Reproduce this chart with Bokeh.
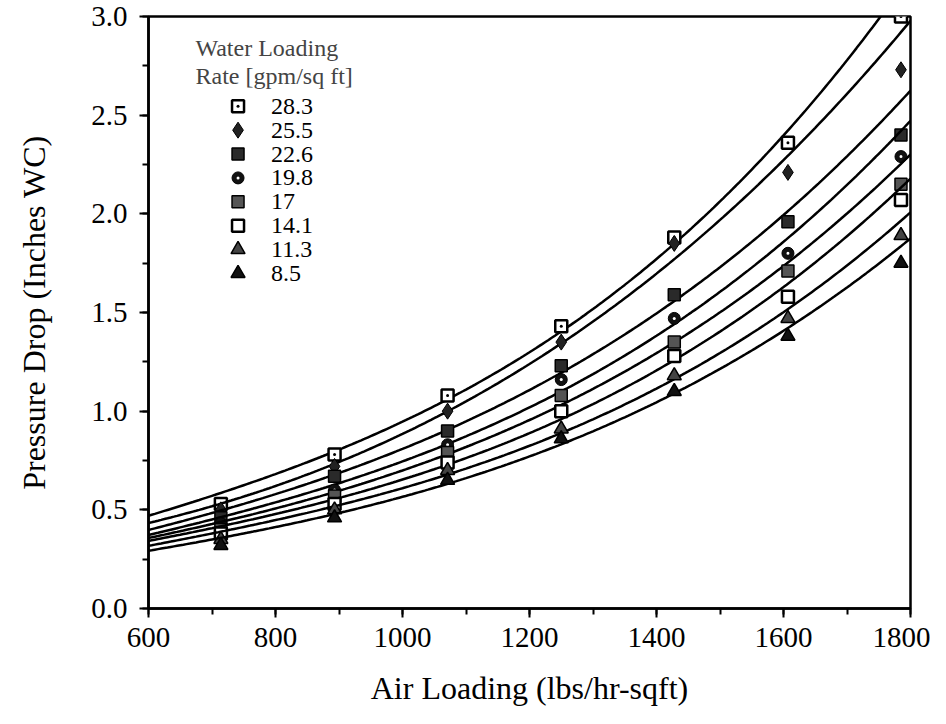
import numpy as np
from bokeh.plotting import figure
from bokeh.models import Range1d, FixedTicker, Label, NumeralTickFormatter
from bokeh.core.properties import value
from bokeh.embed import file_html
from bokeh.resources import INLINE

# ---- data ----
air_loading = [714, 893, 1071, 1250, 1428, 1607, 1785]
water_rates = ["28.3", "25.5", "22.6", "19.8", "17", "14.1", "11.3", "8.5"]
dp_28_3 = [0.53, 0.78, 1.08, 1.43, 1.88, 2.36, 3.00]
dp_25_5 = [0.50, 0.72, 1.00, 1.35, 1.85, 2.21, 2.73]
dp_22_6 = [0.46, 0.67, 0.90, 1.23, 1.59, 1.96, 2.40]
dp_19_8 = [0.43, 0.60, 0.83, 1.16, 1.47, 1.80, 2.29]
dp_17_0 = [0.40, 0.57, 0.79, 1.08, 1.35, 1.71, 2.15]
dp_14_1 = [0.38, 0.53, 0.74, 1.00, 1.28, 1.58, 2.07]
dp_11_3 = [0.35, 0.50, 0.70, 0.91, 1.18, 1.47, 1.89]
dp_8_5 = [0.32, 0.46, 0.65, 0.86, 1.10, 1.38, 1.75]
# fitted-curve values read where the curves meet the left (600) and right (1800) edges
curve_at_600 = [0.48, 0.44, 0.405, 0.38, 0.365, 0.35, 0.325, 0.30]
curve_at_1800 = [3.25, 3.03, 2.67, 2.51, 2.33, 2.20, 2.03, 1.90]
x_ticks = [600, 800, 1000, 1200, 1400, 1600, 1800]
y_ticks = [0.0, 0.5, 1.0, 1.5, 2.0, 2.5, 3.0]

series = [dp_28_3, dp_25_5, dp_22_6, dp_19_8, dp_17_0, dp_14_1, dp_11_3, dp_8_5]
styles = [
    dict(marker="square_dot", size=12, fill_color="white", line_color="black", line_width=2.5),
    dict(marker="diamond", size=16, fill_color="#222222", line_color="black", line_width=1),
    dict(marker="square", size=12, fill_color="#2a2a2a", line_color="black", line_width=1.5),
    dict(marker="circle", size=12, fill_color="#111111", line_color="black", line_width=1),
    dict(marker="square", size=12, fill_color="#555555", line_color="black", line_width=1.5),
    dict(marker="square", size=12, fill_color="white", line_color="black", line_width=2.5),
    dict(marker="triangle", size=14, fill_color="#444444", line_color="black", line_width=1.5),
    dict(marker="triangle", size=14, fill_color="#111111", line_color="black", line_width=1.5),
]

FONT = "Liberation Serif"

p = figure(width=930, height=708, output_backend="svg", toolbar_location=None,
           x_range=Range1d(600, 1800), y_range=Range1d(0, 3),
           min_border_left=148, min_border_right=20, min_border_top=16,
           min_border_bottom=96)
p.background_fill_color = "white"
p.border_fill_color = "white"
p.grid.visible = False
p.outline_line_color = "black"
p.outline_line_width = 2.5

xs = np.linspace(600, 1800, 241)
leg_x_marker = 741
leg_x_text = 793
for i, (name, vals, st) in enumerate(zip(water_rates, series, styles)):
    fx = [600] + air_loading + [1800]
    fy = [curve_at_600[i]] + vals + [curve_at_1800[i]]
    w = [2.0] + [1.0] * len(air_loading) + [2.0]
    coef = np.polyfit(fx, fy, 3, w=w)
    p.line(xs, np.polyval(coef, xs), line_color="black", line_width=2.5)
    p.scatter(air_loading, vals, **st)
    ly = 2.545 - 0.121 * i
    p.scatter([leg_x_marker], [ly], **st)
    p.text([leg_x_text], [ly], text=[name], text_font=value(FONT),
           text_font_size="24px", text_baseline="middle", text_align="left",
           text_color="black")
    if st["marker"] == "circle":
        p.scatter(air_loading, vals, marker="circle", size=3, fill_color="white", line_color=None)
        p.scatter([leg_x_marker], [ly], marker="circle", size=3, fill_color="white", line_color=None)

p.add_layout(Label(x=674, y=2.84, text="Water Loading", text_font=FONT,
                   text_font_size="24px", text_baseline="middle"))
p.add_layout(Label(x=674, y=2.70, text="Rate [gpm/sq ft]", text_font=FONT,
                   text_font_size="24px", text_baseline="middle"))

for ax in (p.xaxis[0], p.yaxis[0]):
    ax.axis_line_width = 2.5
    ax.axis_line_color = "black"
    ax.major_tick_line_width = 2
    ax.minor_tick_line_width = 2
    ax.major_tick_in = 0
    ax.major_tick_out = 9
    ax.minor_tick_in = 0
    ax.minor_tick_out = 6
    ax.major_label_text_font = FONT
    ax.major_label_text_font_size = "29px"
    ax.major_label_text_color = "black"
    ax.axis_label_text_font = FONT
    ax.axis_label_text_font_size = "32px"
    ax.axis_label_text_font_style = "normal"
    ax.axis_label_text_color = "black"

p.xaxis.ticker = FixedTicker(ticks=x_ticks, minor_ticks=list(range(600, 1801, 100)))
p.yaxis.ticker = FixedTicker(ticks=y_ticks, minor_ticks=[i * 0.25 for i in range(13)])
p.yaxis.formatter = NumeralTickFormatter(format="0.0")
p.xaxis.axis_label = "Air Loading (lbs/hr-sqft)"
p.yaxis.axis_label = "Pressure Drop (Inches WC)"
p.xaxis.major_label_standoff = 10
p.yaxis.major_label_standoff = 12
p.xaxis.axis_label_standoff = 20
p.yaxis.axis_label_standoff = 36

open("out.html", "w").write(file_html(p, INLINE))
